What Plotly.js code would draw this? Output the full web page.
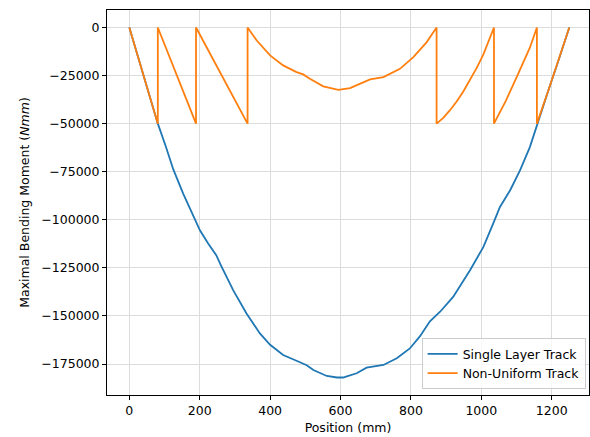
<!DOCTYPE html>
<html>
<head>
<meta charset="utf-8">
<script src="https://cdn.plot.ly/plotly-3.0.1.min.js"></script>
<style>html,body{margin:0;padding:0;background:#fff;}#chart{width:590px;height:437px;}</style>
</head>
<body>
<div id="chart"></div>
<script>
// Single Layer Track
const singleX = [0, 20, 40, 60, 81, 103, 125, 153, 182, 201, 224, 247, 262, 295, 333, 371, 400, 437, 475, 494, 504, 523, 561, 590, 608, 618, 646, 674, 686, 722, 760, 797, 826, 854, 883, 920, 968, 1006, 1034, 1053, 1082, 1110, 1138, 1159, 1190, 1220, 1250];
const singleY = [0, -12300, -24800, -37200, -50000, -61500, -73800, -86400, -98200, -105600, -112300, -118400, -124300, -136600, -148700, -159100, -165000, -170300, -173300, -174600, -175600, -178100, -181200, -182000, -182000, -181400, -179800, -176900, -176500, -175500, -172000, -166900, -160500, -152800, -147800, -140100, -126200, -114100, -101900, -93300, -84600, -74300, -62200, -50000, -33000, -16800, 0];

// Non-Uniform Track
const nonUniformX = [0, 20, 40, 60, 81, 81, 189.5, 189.5, 246, 336, 336, 362, 400, 437, 475, 494, 513, 551, 594, 627, 650, 670, 684, 722, 769, 807, 845, 858, 873, 873, 892, 911, 930, 949, 968, 987, 1006, 1021, 1036, 1036, 1070, 1105, 1138, 1158, 1158, 1190, 1220, 1250];
const nonUniformY = [0, -12300, -24800, -37200, -50000, 0, -50000, 0, -19000, -50000, 0, -6750, -14500, -19700, -23200, -24400, -26700, -30600, -32400, -31500, -29700, -28000, -27000, -25800, -21500, -15400, -7600, -4000, 0, -50000, -47000, -43000, -38500, -33300, -27500, -21000, -14000, -7500, 0, -50000, -38000, -24000, -10500, 0, -50000, -33000, -16800, 0];

const seriesNames = ["Single Layer Track", "Non-Uniform Track"];
const xTickVals = [0, 200, 400, 600, 800, 1000, 1200];
const yTickVals = [0, -25000, -50000, -75000, -100000, -125000, -150000, -175000];
const yTickText = ["0", "\u221225000", "\u221250000", "\u221275000", "\u2212100000", "\u2212125000", "\u2212150000", "\u2212175000"];

const font = {family: "DejaVu Sans, sans-serif", size: 12.5, color: "#000"};

const traces = [
  {x: singleX, y: singleY, mode: "lines", name: seriesNames[0], line: {color: "#1f77b4", width: 1.8}},
  {x: nonUniformX, y: nonUniformY, mode: "lines", name: seriesNames[1], line: {color: "#ff7f0e", width: 1.8}}
];

const axisCommon = {
  showline: true, mirror: true, linecolor: "#000", linewidth: 1,
  ticks: "outside", ticklen: 4, tickwidth: 1, tickcolor: "#000",
  showgrid: true, gridcolor: "#dcdcdc", gridwidth: 1, zeroline: false,
  tickfont: font
};

const layout = {
  width: 590, height: 437,
  margin: {l: 107, r: 1, t: 10, b: 42},
  paper_bgcolor: "#fff", plot_bgcolor: "#fff",
  font: font,
  showlegend: true,
  legend: {
    x: 0.993, xanchor: "right", y: 0.015, yanchor: "bottom",
    bgcolor: "rgba(255,255,255,0.8)", bordercolor: "#cccccc", borderwidth: 1,
    font: font, tracegroupgap: 0
  },
  xaxis: Object.assign({}, axisCommon, {
    range: [-63.4, 1306], tickvals: xTickVals,
    title: {text: "Position (mm)", font: font, standoff: 6}
  }),
  yaxis: Object.assign({}, axisCommon, {
    range: [-191100, 9100], tickvals: yTickVals, ticktext: yTickText,
    title: {text: "Maximal Bending Moment (<i>Nmm</i>)", font: font, standoff: 8}
  })
};

Plotly.newPlot("chart", traces, layout, {staticPlot: true, displayModeBar: false});
</script>
</body>
</html>
